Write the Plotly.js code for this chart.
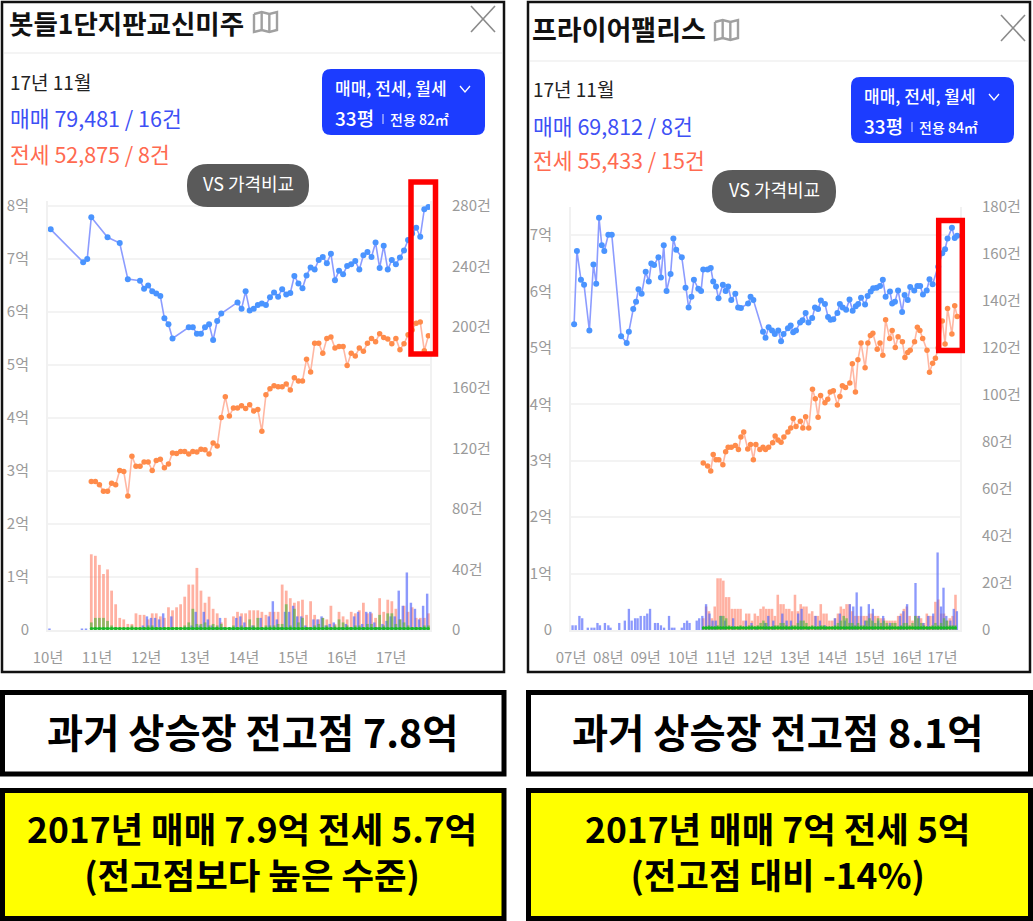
<!DOCTYPE html>
<html><head><meta charset="utf-8">
<script src="https://cdn.plot.ly/plotly-3.0.1.min.js"></script>
<style>html,body{margin:0;padding:0;background:#fff}#c{width:1033px;height:921px}</style></head>
<body><div id="c"></div>
<script>
// ---- left chart (months counted from the first plotted month) ----
const lSaleValues=[7.56,null,null,null,null,null,null,null,6.94,7.00,7.79,null,null,null,7.41,null,null,7.30,null,6.62,null,null,6.59,6.44,6.50,6.39,6.35,6.30,5.88,5.77,5.50,null,null,null,5.71,5.71,5.59,5.59,5.71,5.77,5.47,5.83,5.97,null,null,null,6.18,6.06,6.39,6.03,
6.06,6.13,6.16,6.13,6.28,6.37,6.29,6.43,6.33,6.36,6.68,6.54,6.45,6.69,6.84,6.80,6.98,7.04,6.92,7.10,6.60,6.78,6.71,6.87,6.90,6.96,6.80,7.07,7.13,7.04,7.31,6.83,7.25,6.80,6.98,6.90,7.03,7.16,7.36,7.48,7.59,7.42,7.94,7.98];
const lRentValues=[2.80,2.80,2.74,2.62,2.62,2.77,2.74,3.01,2.99,2.53,3.28,3.09,3.09,3.17,3.17,3.01,3.20,3.22,3.06,3.13,3.34,3.33,3.37,3.37,3.32,3.37,3.36,3.41,3.40,3.32,3.53,3.47,4.01,4.40,4.04,4.19,4.19,4.23,4.18,4.25,4.13,4.16,3.75,4.44,4.55,4.61,4.59,4.59,4.64,4.53,4.76,4.70,4.70,5.11,4.87,5.41,5.41,5.22,5.50,5.53,5.32,5.35,5.35,4.99,5.22,5.17,5.32,5.26,5.41,5.50,5.44,5.59,5.52,5.49,5.40,5.50,5.29,5.40,5.57,5.66,5.79,5.81,5.27,5.55];
const lRentStart=10;
const lSaleCounts=[1,0,0,0,0,0,0,0,1,1,0,0,0,0,0,0,0,0,0,0,0,0,0,3,9,8,8,7,11,0,9,0,0,0,2,3,12,3,12,7,3,2,8,2,0,1,8,9,5,2,3,1,8,1,9,19,7,2,12,12,16,9,9,3,2,7,7,9,3,4,5,1,2,4,2,9,12,4,12,12,5,2,4,6,9,9,26,16,38,18,14,7,16,24];
const lRentCounts=[50,49,43,37,40,26,17,8,7,4,4,11,10,10,7,11,11,9,8,15,13,15,17,22,30,30,41,26,18,22,14,11,5,8,2,9,12,11,11,13,13,13,12,10,12,12,12,30,26,21,18,19,20,10,19,10,7,8,7,16,4,12,9,7,12,11,13,18,11,11,8,21,12,20,19,14,7,16,12,15,8,8,8,11];
const lMonthlyCounts=[5,8,8,8,6,3,2,1,1,1,3,1,1,2,3,3,2,1,2,2,2,2,2,3,5,14,4,4,5,3,4,3,4,1,1,3,2,3,2,7,3,8,2,3,3,3,4,4,17,3,14,5,8,2,2,3,4,8,3,2,3,7,5,3,2,3,3,2,4,4,2,10,3,11,11,4,7,5,3,2,2,2,3,3];
const lBaseCounts=[1,1,1,1,1,1,1,1,1,1,1,1,1,1,1,1,1,1,1,1,1,1,1,1,1,1,1,1,1,1,1,1,1,1,1,1,1,1,1,1,1,1,1,1,1,1,1,1,1,1,1,1,1,1,1,1,1,1,1,1,1,1,1,1,1,1,1,1,1,1,1,1,1,1,1,1,1,1,1,1,1,1,1,1];
const lYearTicks=[-0.66,11.4,23.5,35.5,47.6,59.7,71.7,83.8];
const lYearLabels=['10년','11년','12년','13년','14년','15년','16년','17년'];
const lPriceTicks=[0,1,2,3,4,5,6,7,8];
const lPriceLabels=['0','1억','2억','3억','4억','5억','6억','7억','8억'];
const lCountTicks=[0,40,80,120,160,200,240,280];
const lCountLabels=['0','40건','80건','120건','160건','200건','240건','280건'];

// ---- right chart ----
const rSaleMonths=[1.0,1.9,3.2,4.2,5.9,7.2,8.1,9.0,9.9,10.7,12.0,13.1,16.1,17.9,18.6,20.0,20.9,21.7,22.7,24.0,25.0,25.8,26.7,28.1,28.9,29.8,30.7,32.0,32.9,33.8,35.6,36.8,37.8,38.7,39.5,40.9,41.8,42.5,43.9,44.9,45.7,46.6,47.4,48.8,49.7,50.5,51.5,52.8,53.7,54.6,56.9,57.7,58.6,61.7,62.5,63.5,64.6,65.5,66.6,67.5,68.3,69.7,70.6,71.4,72.3,73.6,74.4,75.4,76.3,77.5,78.4,79.4,80.3,81.6,82.6,83.4,84.3,85.6,86.4,87.3,88.4,89.5,90.5,91.5,92.3,93.2,94.5,95.3,96.3,97.1,98.2,99.3,100.2,101.1,102.5,103.2,104.1,105.1,106.4,107.2,108.2,109.0,110.3,111.3,112.2,113.1,114.3,115.2,116.2,118.0,119.3,120.2,121.0,122.4,123.3,124.1];
const rSaleValues=[5.42,6.72,6.21,6.12,5.31,6.48,6.14,7.31,6.82,6.72,7.01,7.01,5.21,5.09,5.29,5.69,5.82,6.04,5.96,6.35,6.18,6.50,6.47,6.61,6.25,6.82,6.01,6.31,6.94,6.74,6.61,6.07,5.72,5.91,6.21,6.05,6.01,6.39,6.39,6.42,6.18,6.09,5.88,6.12,6.01,6.09,5.85,5.96,5.72,5.71,5.79,5.91,5.85,5.29,5.18,5.37,5.31,5.25,5.31,5.12,5.25,5.35,5.40,5.28,5.31,5.45,5.49,5.62,5.45,5.53,5.72,5.69,5.84,5.78,5.55,5.50,5.51,5.62,5.78,5.72,5.68,5.86,5.66,5.74,5.78,5.89,5.77,5.92,6.00,6.06,6.07,6.10,6.21,5.91,6.00,5.79,5.82,6.02,5.64,5.94,5.85,6.08,6.02,6.10,6.10,5.95,6.02,6.22,6.13,6.44,6.68,6.75,6.94,7.13,6.95,6.99];
const rRentMonths=[42.5,43.9,44.9,45.7,46.6,47.5,48.8,49.7,50.5,51.5,52.8,53.8,54.6,55.5,56.8,57.7,58.6,59.4,60.7,61.7,62.5,63.5,64.8,65.6,66.5,67.5,68.4,69.7,70.6,71.4,72.3,73.7,74.5,75.4,76.4,77.6,78.5,79.4,80.2,81.6,82.5,83.3,84.3,85.6,86.4,87.2,88.2,89.6,90.4,91.4,92.2,93.2,94.5,95.4,96.2,97.0,98.4,99.3,100.2,101.1,102.4,103.2,104.2,105.1,106.5,107.3,108.2,109.0,110.4,111.3,112.1,113.0,114.4,115.2,116.2,117.1,118.0,119.3,120.2,121.0,122.4,123.3,124.1];
const rRentValues=[2.96,2.91,2.82,3.11,3.02,3.02,2.93,3.16,3.24,3.24,3.27,3.20,3.42,3.51,3.21,3.29,3.02,3.29,3.20,3.24,3.20,3.24,3.32,3.44,3.37,3.33,3.42,3.51,3.58,3.75,3.61,3.70,3.58,3.78,3.58,4.27,4.10,3.77,4.16,4.03,4.09,4.22,4.24,3.99,4.14,4.33,4.30,4.38,4.72,4.22,4.79,5.09,4.65,5.09,5.22,5.26,4.98,5.09,4.87,5.50,5.17,5.31,5.01,5.20,5.11,4.83,4.92,4.96,5.11,5.37,5.31,5.17,4.96,4.57,4.73,4.82,5.00,5.48,5.07,5.70,5.25,5.75,5.56];
const rSaleBarMonths=[0.5,1.5,2.7,3.6,5.4,6.6,7.5,8.5,9.3,10.9,12,12.7,15.5,17.3,18.6,19.5,20.6,21.4,22.4,23.6,24.5,25.4,27,27.9,28.9,29.9,31.5,32.4,33.2,35.6,36.4,37.3,38.1,40.4,41.2,42.2,43.4,44.5,45.5,46.5,48.2,49.5,52.1,54.1,56.2,58,59.6,62.3,63.4,65,67.9,69.3,70.7,73,74.1,76.2,78.6,80,81.6,84.8,86.4,88,89.6,90.7,91.8,93.2,94.5,95.7,97,98.7,100.3,102.5,105.7,106.8,108,110.7,111.8,113.2,114.8,116.4,117.8,118.9,119.7,120.6,121.9,123,124];
const rSaleCounts=[2,2,6,5,1,1,1,3,2,3,2,1,3,4,9,4,5,5,6,6,7,9,3,3,2,1,6,1,1,1,3,4,3,4,5,6,11,7,4,4,6,4,5,1,4,3,1,3,6,4,7,4,4,7,9,1,6,4,2,5,7,4,11,10,16,10,4,11,9,4,6,3,6,8,11,20,6,3,6,7,33,10,18,6,4,9,8];
const rRentCounts=[5,10,8,5,10,22,22,21,14,14,9,9,9,9,4,7,7,4,7,6,9,10,9,9,9,6,15,11,11,9,9,8,15,8,11,10,10,7,8,6,6,11,7,7,4,4,5,7,10,9,11,11,8,6,6,6,6,6,7,7,6,6,5,5,4,4,4,4,6,7,9,10,6,4,6,6,5,3,7,6,6,12,13,7,7,4,5,6,15];
const rMonthlyCounts=[1,1,2,1,1,2,6,6,5,2,1,1,1,2,1,1,2,2,1,2,3,4,3,1,1,2,2,3,3,2,1,2,2,3,4,4,3,1,2,1,1,2,2,1,1,1,2,3,4,6,5,3,3,2,3,2,2,4,5,4,3,5,3,4,3,2,3,3,1,2,3,3,2,3,6,5,3,2,1,1,2,3,2,3,5,4,2,2,2];
const rBaseCounts=[1,1,1,1,1,1,1,1,1,1,1,1,1,1,1,1,1,1,1,1,1,1,1,1,1,1,1,1,1,1,1,1,1,1,1,1,1,1,1,1,1,1,1,1,1,1,1,1,1,1,1,1,1,1,1,1,1,1,1,1,1,1,1,1,1,1,1,1,1,1,1,1,1,1,1,1,1,1,1,1,1,1,1,1,1,1,1,1,1];
const rBarStart=42.5, rBarStep=0.921;
const rYearTicks=[0,12,24,36,48,60,72,84,96,108,119.3];
const rYearLabels=['07년','08년','09년','10년','11년','12년','13년','14년','15년','16년','17년'];
const rPriceTicks=[0,1,2,3,4,5,6,7];
const rPriceLabels=['0','1억','2억','3억','4억','5억','6억','7억'];
const rCountTicks=[0,20,40,60,80,100,120,140,160,180];
const rCountLabels=['0','20건','40건','60건','80건','100건','120건','140건','160건','180건'];

// ---- styles ----
const FONT='"Noto Sans CJK KR","Noto Sans",sans-serif';
const W=1033,H=921;
const px=x=>x/W, py=y=>1-y/H;
const C={line:'#8c9cff',dot:'#4a94ff',oLine:'#ffb7a3',oDot:'#ff8b4a',
  pink:'rgba(255,120,95,0.58)',blue:'rgba(85,105,250,0.68)',green:'rgba(80,180,60,0.62)',base:'#1ec02e',tick:'#9a9a9a',grid:'#f3f3f3'};

function priceTrace(x,y,lc,dc,ms,xa,ya){return {type:'scatter',mode:'lines+markers',x,y,connectgaps:true,xaxis:xa,yaxis:ya,
  line:{color:lc,width:1.6},marker:{color:dc,size:ms},hoverinfo:'skip',cliponaxis:false};}
function barTrace(x,y,c,w,xa,ya){return {type:'bar',x,y,width:w,marker:{color:c,line:{width:0}},xaxis:xa,yaxis:ya,hoverinfo:'skip'};}
function baseTrace(x,y,xa,ya){return {type:'scatter',mode:'lines+markers',x,y,xaxis:xa,yaxis:ya,line:{color:C.base,width:2},marker:{color:'#18b828',size:3},hoverinfo:'skip'};}

const lAll=lSaleValues.map((_,i)=>i);
const lRentX=lRentValues.map((_,i)=>i+lRentStart);
const rBarX=rRentCounts.map((_,i)=>rBarStart+i*rBarStep);

const data=[
  barTrace(lRentX,lRentCounts,C.pink,0.68,'x','y2'),
  barTrace(lAll.map(v=>v-0.3),lSaleCounts,C.blue,0.6,'x','y2'),
  barTrace(lRentX,lMonthlyCounts,C.green,0.68,'x','y2'),
  baseTrace(lRentX,lBaseCounts,'x','y2'),
  priceTrace(lRentX,lRentValues,C.oLine,C.oDot,5.5,'x','y'),
  priceTrace(lAll,lSaleValues,C.line,C.dot,6,'x','y'),
  barTrace(rBarX,rRentCounts,C.pink,0.82,'x2','y4'),
  barTrace(rSaleBarMonths,rSaleCounts,C.blue,0.75,'x2','y4'),
  barTrace(rBarX,rMonthlyCounts,C.green,0.82,'x2','y4'),
  baseTrace(rBarX,rBaseCounts,'x2','y4'),
  priceTrace(rRentMonths,rRentValues,C.oLine,C.oDot,5.5,'x2','y3'),
  priceTrace(rSaleMonths,rSaleValues,C.line,C.dot,6,'x2','y3')
];

const tf={family:FONT,size:15,color:C.tick};
function yAxis(domain,range,vals,text,extra){return Object.assign({domain,range,tickmode:'array',tickvals:vals,ticktext:text,tickfont:tf,
  ticks:'',showgrid:true,gridcolor:C.grid,gridwidth:2,zeroline:false,showline:true,linecolor:'#f1f1f1',linewidth:2,fixedrange:true},extra);}
function xAxis(domain,range,vals,text,extra){return Object.assign({domain,range,tickmode:'array',tickvals:vals,ticktext:text,tickfont:tf,
  ticks:'',showgrid:false,zeroline:false,showline:true,linecolor:'#f1f1f1',linewidth:2,ticklabelstandoff:13,fixedrange:true},extra);}

const shapes=[],annotations=[];
function rect(x0,y0,x1,y1,fill,lc,lw){shapes.push({type:'rect',xref:'paper',yref:'paper',x0:px(x0),x1:px(x1),y0:py(y0),y1:py(y1),fillcolor:fill,line:{color:lc||'rgba(0,0,0,0)',width:lw||0},layer:'above'});}
function seg(x0,y0,x1,y1,c,w){shapes.push({type:'line',xref:'paper',yref:'paper',x0:px(x0),x1:px(x1),y0:py(y0),y1:py(y1),line:{color:c,width:w},layer:'above'});}
function poly(points,c,w,fill){const d=points.map((p,i)=>(i?'L':'M')+px(p[0])+' '+py(p[1])).join(' ');
  shapes.push({type:'path',xref:'paper',yref:'paper',path:d+(fill?' Z':''),line:{color:c,width:w},fillcolor:fill||'rgba(0,0,0,0)',layer:'above'});}
function round(x0,y0,x1,y1,r,fill){
  const X=px,Y=py;
  const d=`M${X(x0+r)} ${Y(y0)} L${X(x1-r)} ${Y(y0)} Q${X(x1)} ${Y(y0)} ${X(x1)} ${Y(y0+r)} L${X(x1)} ${Y(y1-r)} Q${X(x1)} ${Y(y1)} ${X(x1-r)} ${Y(y1)} L${X(x0+r)} ${Y(y1)} Q${X(x0)} ${Y(y1)} ${X(x0)} ${Y(y1-r)} L${X(x0)} ${Y(y0+r)} Q${X(x0)} ${Y(y0)} ${X(x0+r)} ${Y(y0)} Z`;
  shapes.push({type:'path',xref:'paper',yref:'paper',path:d,fillcolor:fill,line:{width:0},layer:'above'});
}
function txt(x,y,s,size,color,anchor,weight){const a=anchor||'left';annotations.push({xref:'paper',yref:'paper',x:px(a==='left'?x-2:x),y:py(y-1.5),text:s,showarrow:false,xanchor:a,yanchor:'middle',align:a,borderpad:0,
  font:{family:FONT,size,color,weight:weight||400}});}
function mapIcon(x,y,w,h){
  const s=w/3;
  poly([[x,y+2],[x+s,y],[x+2*s,y+2],[x+w,y],[x+w,y+h-2],[x+2*s,y+h],[x+s,y+h-2],[x,y+h],[x,y+2]],'#a0a0a0',2.4);
  seg(x+s,y,x+s,y+h-2,'#a0a0a0',2.4); seg(x+2*s,y+2,x+2*s,y+h,'#a0a0a0',2.4);
}

function panel(o){
  rect(o.fx0,2,o.fx1,672,'rgba(0,0,0,0)','#111',2.5);
  seg(o.fx0+2,o.sep,o.fx1-2,o.sep,'#f0f0f0',1.5);
  txt(o.tx,o.ty,o.title,o.tsize,'#111','left',700);
  mapIcon(o.mx,o.my,23,20);
  seg(o.cx,o.cy,o.cx+24,o.cy+26,'#8a8a8a',1.6); seg(o.cx+24,o.cy,o.cx,o.cy+26,'#8a8a8a',1.6);
  txt(o.dx,o.dy,'17년 11월',19,'#222');
  txt(o.dx,o.sy,o.sale,21.5,'#3d50f5');
  txt(o.dx,o.ry,o.rent,21.5,'#ff6a50');
  round(o.bx,o.by,o.bx+163,o.by+66,9,'#1c3cff');
  txt(o.bx+14,o.by+20,'매매, 전세, 월세',17,'#fff','left',500);
  poly([[o.bx+138,o.by+17],[o.bx+143,o.by+23],[o.bx+148,o.by+17]],'#fff',1.3);
  txt(o.bx+14,o.by+50,'33평',19,'#fff','left',500);
  seg(o.bx+61,o.by+45,o.bx+61,o.by+55,'#dfe4ff',1);
  txt(o.bx+69,o.by+51,o.area,14,'#fff','left',500);
  round(o.px0,o.py0,o.px0+o.pw,o.py0+43,21,'#5a5a5a');
  txt(o.px0+o.pw/2,o.py0+21,'VS 가격비교',18,'#fff','center');
  rect(o.rx0,o.ry0,o.rx1,o.ry1,'rgba(0,0,0,0)','#ff0000',5.5);
}
panel({fx0:2,fx1:504,sep:53,title:'봇들1단지판교신미주',tx:10,ty:24,tsize:26.5,mx:254,my:12,cx:471,cy:6,dx:11,dy:83,sy:119,ry:155,
  sale:'매매 79,481 / 16건',rent:'전세 52,875 / 8건',area:'전용 82㎡',bx:322,by:69,px0:187,py0:164,pw:122,rx0:411,ry0:182,rx1:435.5,ry1:354});
panel({fx0:528,fx1:1030,sep:61,title:'프라이어팰리스',tx:533,ty:30,tsize:27,mx:715,my:20,cx:1001,cy:15,dx:534,dy:90,sy:127,ry:161,
  sale:'매매 69,812 / 8건',rent:'전세 55,433 / 15건',area:'전용 84㎡',bx:851,by:77,px0:712,py0:170,pw:124,rx0:938.7,ry0:220.4,rx1:962.3,ry1:350.6});

// bottom boxes
rect(2.5,692.5,504,774,'#ffffff','#000',5);
rect(528.5,692.5,1030.5,774,'#ffffff','#000',5);
rect(2.5,790.5,504,918.5,'#ffff00','#000',5);
rect(528.5,790.5,1030.5,918.5,'#ffff00','#000',5);
txt(252,732,'과거 상승장 전고점 7.8억',39.3,'#000','center',700);
txt(777,732,'과거 상승장 전고점 8.1억',39.3,'#000','center',700);
txt(252,852,'2017년 매매 7.9억 전세 5.7억<br>(전고점보다 높은 수준)',35.4,'#000','center',700);
txt(777,852,'2017년 매매 7억 전세 5억<br>(전고점 대비 -14%)',35.4,'#000','center',700);

const layout={width:W,height:H,margin:{l:0,r:0,t:0,b:0},paper_bgcolor:'#fff',plot_bgcolor:'#fff',showlegend:false,barmode:'overlay',
  xaxis:xAxis([px(48),px(430)],[-0.66,93.4],lYearTicks,lYearLabels,{anchor:'y'}),
  yaxis:yAxis([py(630),py(200.7)],[0,8.1],lPriceTicks,lPriceLabels,{anchor:'x',ticklabelstandoff:14}),
  yaxis2:yAxis([py(630),py(200.7)],[0,283.5],lCountTicks,lCountLabels,{overlaying:'y',side:'right',anchor:'x',showgrid:false,ticklabelstandoff:17}),
  xaxis2:xAxis([px(571),px(960)],[0,125],rYearTicks,rYearLabels,{anchor:'y3'}),
  yaxis3:yAxis([py(630),py(207)],[0,7.5],rPriceTicks,rPriceLabels,{anchor:'x2',ticklabelstandoff:14}),
  yaxis4:yAxis([py(630),py(207)],[0,180],rCountTicks,rCountLabels,{overlaying:'y3',side:'right',anchor:'x2',showgrid:false,ticklabelstandoff:17}),
  shapes,annotations};
Plotly.newPlot('c',data,layout,{staticPlot:true,displayModeBar:false});
</script></body></html>
